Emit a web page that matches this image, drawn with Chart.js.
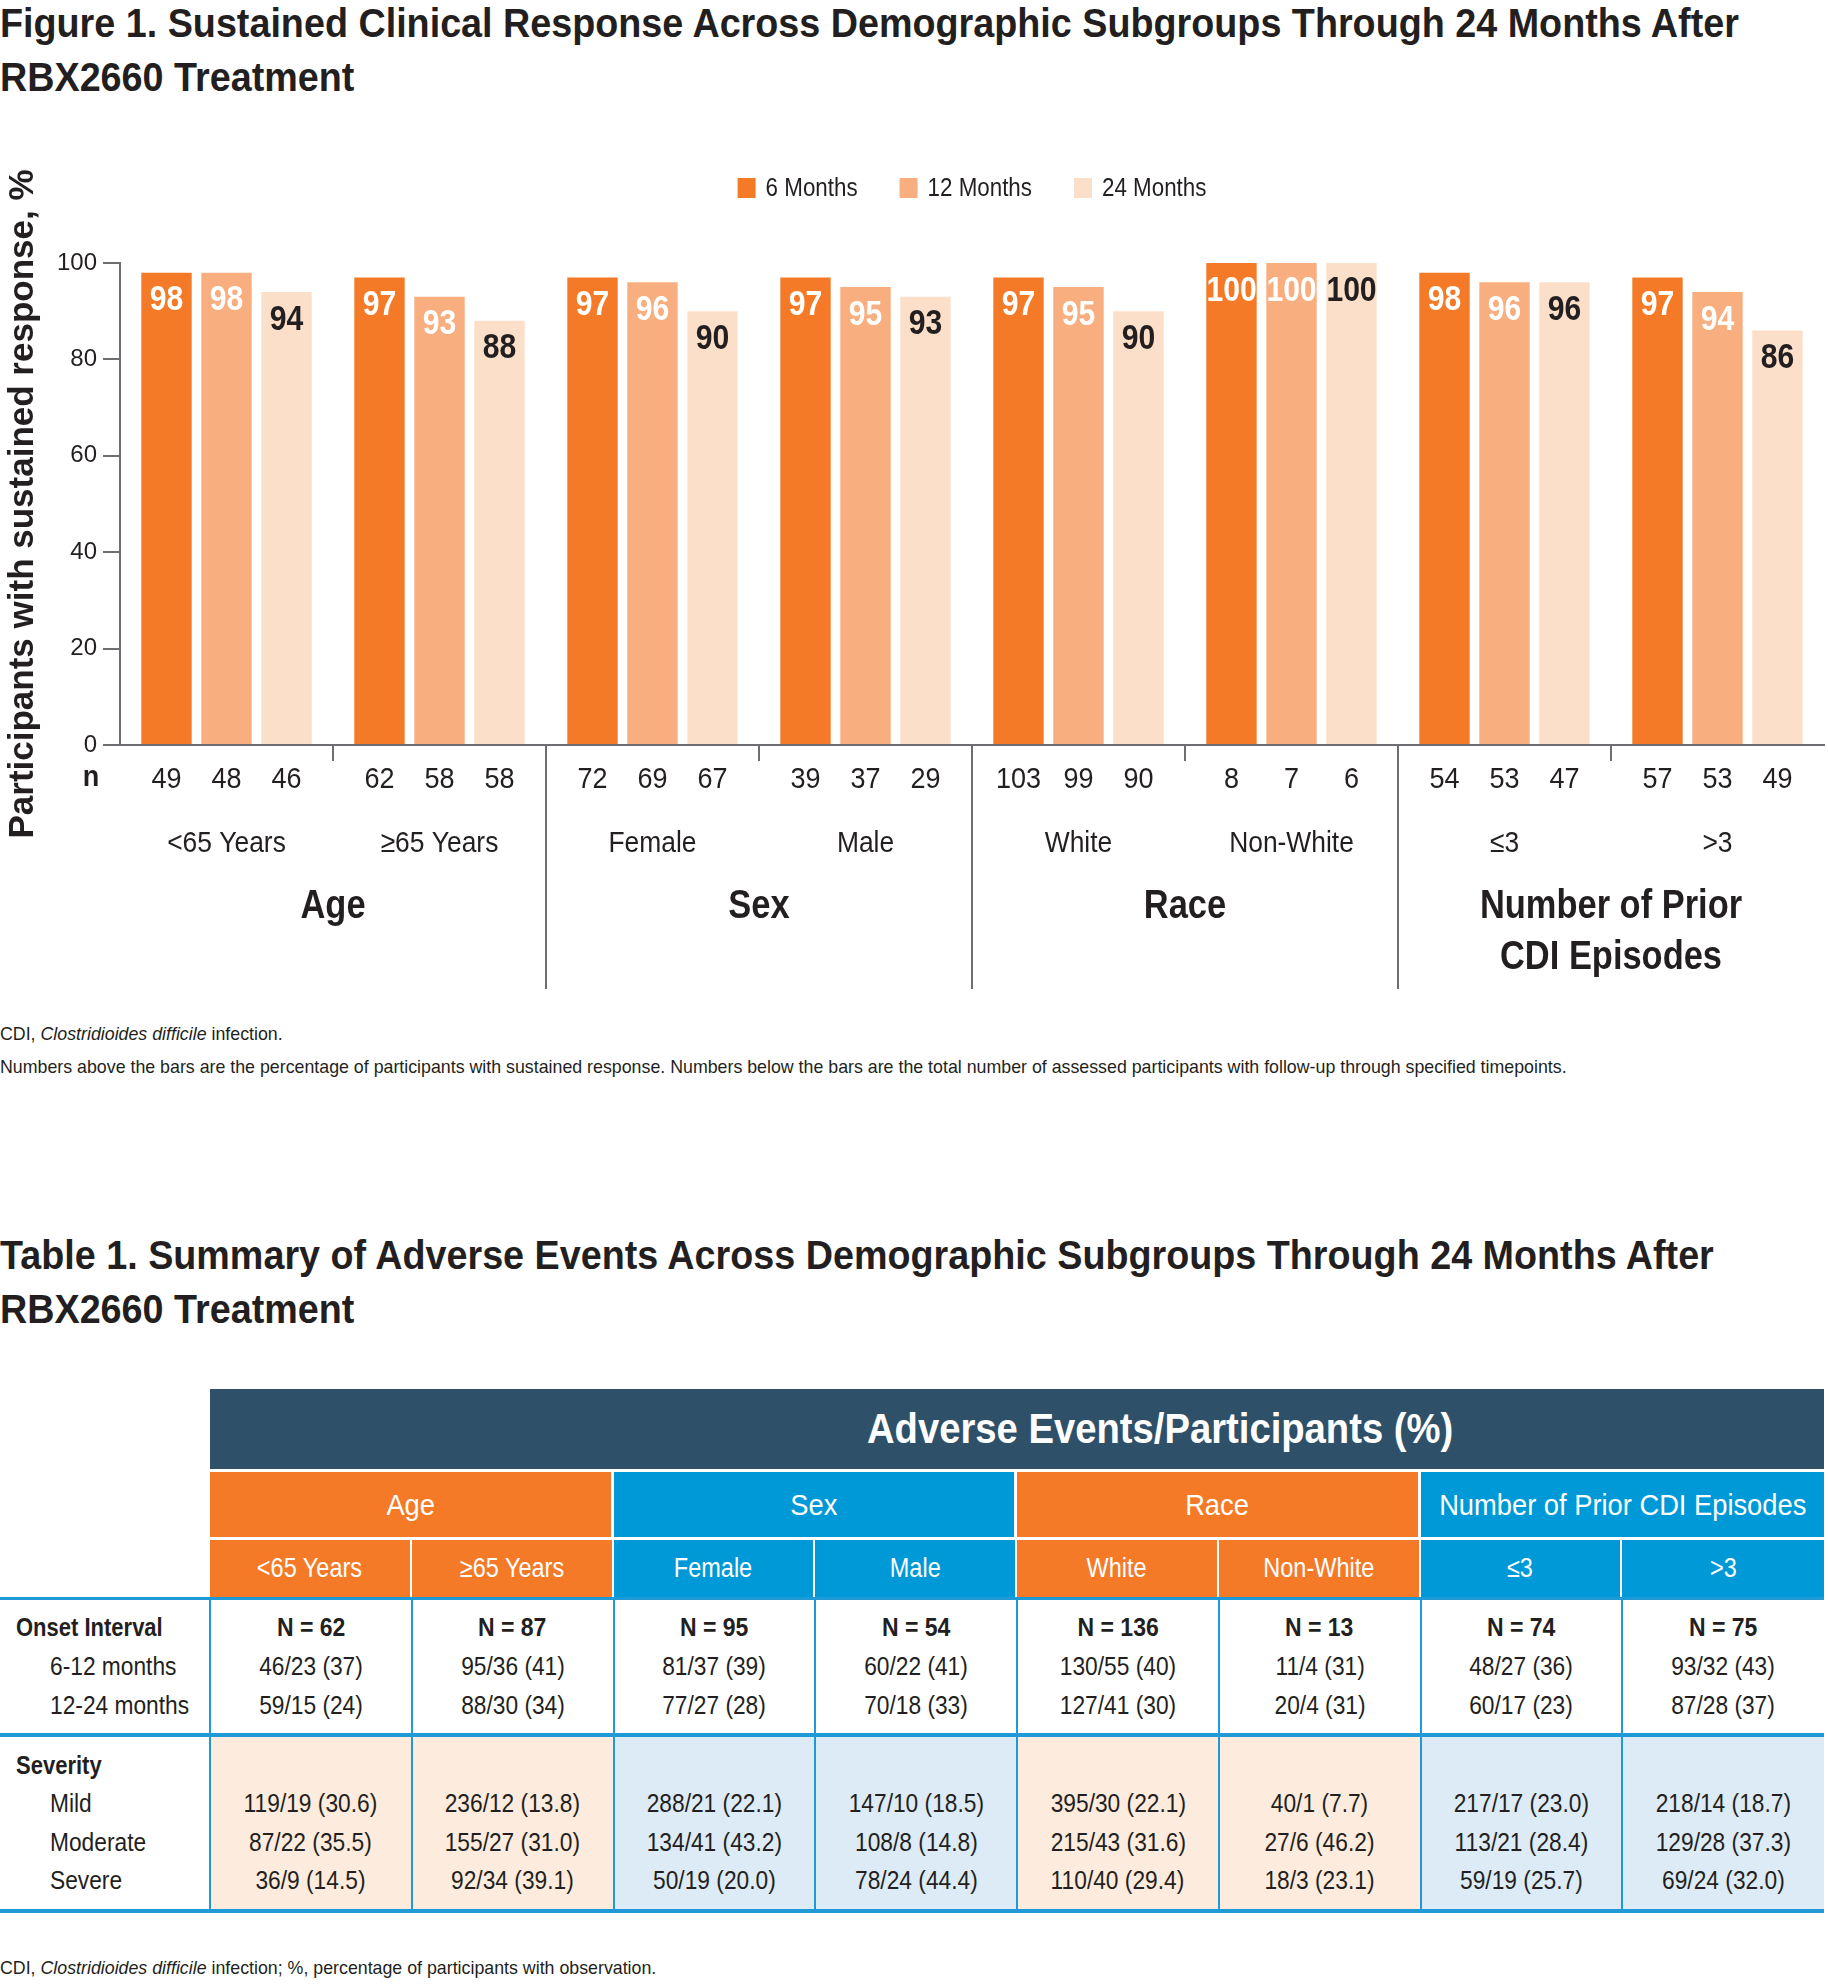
<!DOCTYPE html>
<html>
<head>
<meta charset="utf-8">
<script src="https://cdn.jsdelivr.net/npm/chart.js@4.4.1/dist/chart.umd.min.js"></script>
<style>
  body { margin: 0; width: 1828px; height: 1985px; background: #fff; position: relative; overflow: hidden; color: #231f20;
         font-family: 'Liberation Sans', Arial, sans-serif; }
  .ttl { position: absolute; left: 0; font-weight: bold; font-size: 41px; line-height: 54px; white-space: nowrap;
         transform: scaleX(0.92); transform-origin: left center; }
  .note { position: absolute; left: 0; font-size: 17.8px; line-height: 24px; white-space: nowrap; }
  #chartBox { position: absolute; left: 0; top: 120px; }
  #tbl div { position: absolute; white-space: nowrap; box-sizing: border-box; }
  #tbl span { display: inline-block; }
</style>
</head>
<body>
<div class="ttl" style="top:-4px">Figure 1. Sustained Clinical Response Across Demographic Subgroups Through 24 Months After<br>RBX2660 Treatment</div>
<canvas id="chartBox" width="1828" height="900"></canvas>
<div class="note" style="top:1022px">CDI, <i>Clostridioides difficile</i> infection.</div>
<div class="note" style="top:1055px">Numbers above the bars are the percentage of participants with sustained response. Numbers below the bars are the total number of assessed participants with follow-up through specified timepoints.</div>

<div class="ttl" style="top:1228px">Table 1. Summary of Adverse Events Across Demographic Subgroups Through 24 Months After<br>RBX2660 Treatment</div>
<div id="tbl"></div>
<div class="note" style="top:1956px">CDI, <i>Clostridioides difficile</i> infection; %, percentage of participants with observation.</div>

<script>
// ---- figure data ----
const subgroups = ['<65 Years', '≥65 Years', 'Female', 'Male', 'White', 'Non-White', '≤3', '>3'];
const groupNames = [['Age'], ['Sex'], ['Race'], ['Number of Prior', 'CDI Episodes']];
const months6 = [98, 97, 97, 97, 97, 100, 98, 97];
const months12 = [98, 93, 96, 95, 95, 100, 96, 94];
const months24 = [94, 88, 90, 93, 90, 100, 96, 86];
const n6 = [49, 62, 72, 39, 103, 8, 54, 57];
const n12 = [48, 58, 69, 37, 99, 7, 53, 53];
const n24 = [46, 58, 67, 29, 90, 6, 47, 49];

// ---- table data ----
const tableGroups = ['Age', 'Sex', 'Race', 'Number of Prior CDI Episodes'];
const tableN = [62, 87, 95, 54, 136, 13, 74, 75];
const onset612 = ['46/23 (37)', '95/36 (41)', '81/37 (39)', '60/22 (41)', '130/55 (40)', '11/4 (31)', '48/27 (36)', '93/32 (43)'];
const onset1224 = ['59/15 (24)', '88/30 (34)', '77/27 (28)', '70/18 (33)', '127/41 (30)', '20/4 (31)', '60/17 (23)', '87/28 (37)'];
const sevMild = ['119/19 (30.6)', '236/12 (13.8)', '288/21 (22.1)', '147/10 (18.5)', '395/30 (22.1)', '40/1 (7.7)', '217/17 (23.0)', '218/14 (18.7)'];
const sevModerate = ['87/22 (35.5)', '155/27 (31.0)', '134/41 (43.2)', '108/8 (14.8)', '215/43 (31.6)', '27/6 (46.2)', '113/21 (28.4)', '129/28 (37.3)'];
const sevSevere = ['36/9 (14.5)', '92/34 (39.1)', '50/19 (20.0)', '78/24 (44.4)', '110/40 (29.4)', '18/3 (23.1)', '59/19 (25.7)', '69/24 (32.0)'];

const ORANGE = '#f47a28', ORANGE_MID = '#f8ae7e', ORANGE_LIGHT = '#fcdfc8';
const BLUE = '#0099d8', LINE = '#1f9ad6', DARK = '#2f5069';
const INK = '#231f20', AXIS = '#6d6e71';
const FONT = "'Liberation Sans', Arial, sans-serif";

// text squeezed sideways, to look like the condensed face of the original
function condText(ctx, text, x, y, sx) {
    ctx.save();
    ctx.translate(x, y);
    ctx.scale(sx, 1);
    ctx.fillText(text, 0, 0);
    ctx.restore();
}

// labels, n row, category names, separators, group names and legend
const figExtras = {
    id: 'figExtras',
    afterDatasetsDraw(chart) {
        const ctx = chart.ctx;
        const xs = chart.scales.x;
        ctx.save();
        ctx.textAlign = 'center';
        ctx.textBaseline = 'middle';
        chart.data.datasets.forEach((ds, i) => {
            const meta = chart.getDatasetMeta(i);
            meta.data.forEach((bar, j) => {
                ctx.font = 'bold 35px ' + FONT;
                ctx.fillStyle = ds.labelColor;
                condText(ctx, String(ds.data[j]), bar.x, bar.y + 28, 0.86);
                ctx.font = '30px ' + FONT;
                ctx.fillStyle = INK;
                condText(ctx, String(ds.n[j]), bar.x, xs.top + 35, 0.9);
            });
        });
        ctx.font = 'bold 30px ' + FONT;
        condText(ctx, 'n', chart.chartArea.left - 29, xs.top + 33, 0.9);

        ctx.font = '30px ' + FONT;
        chart.data.labels.forEach((lab, k) => {
            condText(ctx, lab, xs.getPixelForValue(k), xs.top + 99, 0.88);
        });

        ctx.strokeStyle = AXIS;
        ctx.lineWidth = 2;
        for (let k = 1; k < subgroups.length; k++) {
            const bx = (xs.getPixelForValue(k - 1) + xs.getPixelForValue(k)) / 2;
            const len = k % 2 === 0 ? 244 : 16;
            ctx.beginPath();
            ctx.moveTo(bx, xs.top);
            ctx.lineTo(bx, xs.top + len);
            ctx.stroke();
        }

        ctx.font = 'bold 41px ' + FONT;
        ctx.fillStyle = INK;
        groupNames.forEach((lines, g) => {
            const gx = (xs.getPixelForValue(2 * g) + xs.getPixelForValue(2 * g + 1)) / 2;
            lines.forEach((t, l) => condText(ctx, t, gx, xs.top + 162 + 51 * l, 0.84));
        });
        ctx.restore();
    },
    afterDraw(chart) {
        const ctx = chart.ctx;
        const area = chart.chartArea;
        const sx = 0.86;
        ctx.save();
        ctx.font = '26px ' + FONT;
        ctx.textBaseline = 'middle';
        ctx.textAlign = 'left';
        const items = chart.data.datasets.map(ds => ({ ds, w: ctx.measureText(ds.label).width * sx }));
        const total = items.reduce((s, it) => s + 28 + it.w, 0) + 42 * (items.length - 1);
        let x = (area.left + area.right) / 2 - total / 2;
        const y = area.top - 75;
        items.forEach(it => {
            ctx.fillStyle = it.ds.backgroundColor;
            ctx.fillRect(x, y - 10, 18, 20);
            ctx.fillStyle = INK;
            condText(ctx, it.ds.label, x + 28, y + 1, sx);
            x += 28 + it.w + 42;
        });
        ctx.restore();
    }
};

new Chart(document.getElementById('chartBox'), {
    type: 'bar',
    data: {
        labels: subgroups,
        datasets: [
            { label: '6 Months', data: months6, n: n6, backgroundColor: ORANGE, labelColor: '#ffffff' },
            { label: '12 Months', data: months12, n: n12, backgroundColor: ORANGE_MID, labelColor: '#ffffff' },
            { label: '24 Months', data: months24, n: n24, backgroundColor: ORANGE_LIGHT, labelColor: INK },
        ],
    },
    options: {
        responsive: false,
        animation: false,
        layout: { padding: { top: 143, left: 0, right: 4, bottom: 0 } },
        plugins: { legend: { display: false }, tooltip: { enabled: false } },
        datasets: { bar: { barPercentage: 0.84, categoryPercentage: 0.845 } },
        scales: {
            x: {
                offset: true,
                grid: { display: false },
                border: { color: AXIS, width: 2 },
                ticks: { display: false },
                afterFit: s => { s.height = 275; },
            },
            y: {
                min: 0,
                max: 100,
                ticks: { stepSize: 20, font: { family: FONT, size: 24 }, color: INK, padding: 6 },
                grid: { drawOnChartArea: false, tickLength: 17, color: AXIS, lineWidth: 2 },
                border: { color: AXIS, width: 2 },
                title: {
                    display: true,
                    text: 'Participants with sustained response, %',
                    font: { family: FONT, weight: 'bold', size: 35 },
                    color: INK,
                    padding: { top: 2, bottom: 0 },
                },
                afterFit: s => { s.width = 120; },
            },
        },
    },
    plugins: [figExtras],
});

// ---- table ----
const tbl = document.getElementById('tbl');
function put(x, y, w, h, html, css) {
    const d = document.createElement('div');
    d.style.cssText = 'left:' + x + 'px;top:' + y + 'px;width:' + w + 'px;height:' + h + 'px;line-height:' + h + 'px;' + (css || '');
    d.innerHTML = html;
    tbl.appendChild(d);
    return d;
}
function cond(text, sx, origin) {
    const t = text.replace(/</g, '&lt;').replace(/>/g, '&gt;');
    return '<span style="transform:scaleX(' + sx + ');transform-origin:' + (origin || 'center') + ' center">' + t + '</span>';
}
const LEFT = 210, COLW = 201.75, TW = LEFT + COLW * 8;

put(LEFT, 1389, TW - LEFT, 80, cond('Adverse Events/Participants (%)', 0.91),
    'background:' + DARK + ';color:#fff;font-weight:bold;font-size:42px;text-align:center;padding-left:286px;');
tableGroups.forEach((g, i) => {
    put(LEFT + i * 2 * COLW, 1472, 2 * COLW - (i < 3 ? 3 : 0), 65, cond(g, 0.91),
        'background:' + (i % 2 ? BLUE : ORANGE) + ';color:#fff;font-size:30px;text-align:center;');
});
subgroups.forEach((s, k) => {
    const g = Math.floor(k / 2);
    put(LEFT + k * COLW, 1540, COLW - (k < 7 ? 2 : 0), 57, cond(s, 0.87),
        'background:' + (g % 2 ? BLUE : ORANGE) + ';color:#fff;font-size:27px;text-align:center;');
});

// severity backgrounds
subgroups.forEach((s, k) => {
    const g = Math.floor(k / 2);
    put(LEFT + k * COLW, 1736, COLW, 174, '', 'background:' + (g % 2 ? '#ddebf7' : '#fdebdd') + ';');
});

// horizontal rules
put(0, 1597, TW, 3, '', 'background:' + LINE + ';');
put(0, 1733, TW, 4, '', 'background:' + LINE + ';');
put(0, 1909, TW, 4, '', 'background:' + LINE + ';');
// vertical rules
for (let k = 0; k < 8; k++) {
    put(LEFT + k * COLW - 1, 1597, 2, 314, '', 'background:' + LINE + ';');
}

const rowH = 38;
function row(cy, label, indent, bold, values, valBold) {
    put(indent, cy - rowH / 2, 200, rowH, cond(label, bold ? 0.88 : 0.91, 'left'),
        'font-size:25px;' + (bold ? 'font-weight:bold;' : ''));
    if (values) {
        values.forEach((v, k) => {
            put(LEFT + k * COLW, cy - rowH / 2, COLW, rowH, cond(v, valBold ? 0.92 : 0.91),
                'text-align:center;font-size:25px;' + (valBold ? 'font-weight:bold;' : ''));
        });
    }
}
row(1627, 'Onset Interval', 16, true, tableN.map(n => 'N = ' + n), true);
row(1666, '6-12 months', 50, false, onset612);
row(1705, '12-24 months', 50, false, onset1224);
row(1765, 'Severity', 16, true, null);
row(1803, 'Mild', 50, false, sevMild);
row(1842, 'Moderate', 50, false, sevModerate);
row(1880, 'Severe', 50, false, sevSevere);
</script>
</body>
</html>
